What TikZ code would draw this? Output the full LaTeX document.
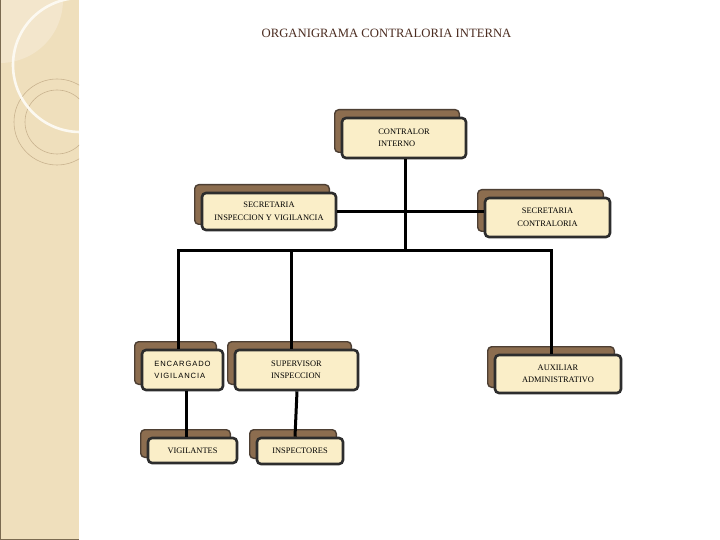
\documentclass[tikz,border=0pt]{standalone}
\usepackage{fontspec}
\setmainfont{Liberation Serif}
\newfontfamily\wideSans[LetterSpace=12]{Liberation Sans}
\usetikzlibrary{backgrounds}
\definecolor{sidebar}{HTML}{EFDFBC}
\definecolor{sidelight}{HTML}{F3E6CC}
\definecolor{sideline}{HTML}{C9B38F}
\definecolor{sideedge}{HTML}{7A6A50}
\definecolor{backfill}{HTML}{8C6D4F}
\definecolor{backedge}{HTML}{4D3F33}
\definecolor{frontfill}{HTML}{FAEEC8}
\definecolor{frontedge}{HTML}{2D2D2D}
\definecolor{titlecol}{HTML}{4B2C20}
\tikzset{
  front/.style={draw=frontedge, line width=2.6pt, fill=frontfill, rounded corners=4pt,
    inner sep=0pt, font=\fontsize{8.4}{12.5}\selectfont, align=center},
  backbox/.style={draw=backedge, line width=1.4pt, fill=backfill, rounded corners=4pt},
  conn/.style={draw=black, line width=3pt},
}
\newcommand{\backof}[1]{\draw[backbox] ([shift={(-6,-7)}]#1.south west) rectangle ([shift={(-8,-7)}]#1.north east);}
\begin{document}
\begin{tikzpicture}[x=1pt,y=-1pt]
\useasboundingbox (0,0) rectangle (720,540);

\node[font=\fontsize{12.7}{14}\selectfont, text=titlecol] (title) at (386.5,33) {ORGANIGRAMA CONTRALORIA INTERNA};

% front boxes
\node[front, minimum width=124pt, minimum height=40pt] (ci) at (404,138) {\begin{tabular}{@{}l@{}}CONTRALOR\\INTERNO\end{tabular}};
\node[front, minimum width=134pt, minimum height=37pt] (si) at (269,211.5) {SECRETARIA\\INSPECCION Y VIGILANCIA};
\node[front, minimum width=125pt, minimum height=39pt] (sc) at (547.5,217.5) {SECRETARIA\\CONTRALORIA};
\node[front, minimum width=81pt, minimum height=40pt] (ev) at (182.5,370) {\wideSans\fontsize{7.6}{12.5}\selectfont\begin{tabular}{@{}l@{}}ENCARGADO\\VIGILANCIA\end{tabular}};
\node[front, minimum width=123pt, minimum height=40pt] (sp) at (296.5,370) {\begin{tabular}{@{}l@{}}SUPERVISOR\\INSPECCION\end{tabular}};
\node[front, minimum width=126pt, minimum height=38pt] (aa) at (558,374) {AUXILIAR\\ADMINISTRATIVO};
\node[front, minimum width=89pt, minimum height=25pt] (vg) at (192.5,450.5) {VIGILANTES};
\node[front, minimum width=86pt, minimum height=26pt] (ip) at (300,451) {INSPECTORES};

\begin{scope}[on background layer]
  \fill[white] (0,0) rectangle (720,540);
  \begin{scope}
    \clip (0,0) rectangle (79,540);
    \fill[sidebar] (0,0) rectangle (79,540);
    \fill[sidelight] (0,0) circle[radius=63];
    \draw[sideline, line width=0.6pt] (57,122) circle[radius=43];
    \draw[sideline, line width=0.6pt] (57,122) circle[radius=32];
    \draw[white!80!sidebar, line width=2.6pt] (80,65) circle[radius=67];
  \end{scope}
  \draw[sideedge, line width=1.2pt] (0.6,0) -- (0.6,539.4) -- (79,539.4);
  \backof{ci}\backof{si}\backof{sc}\backof{ev}\backof{sp}\backof{aa}\backof{vg}\backof{ip}
\end{scope}

% connectors
\coordinate (mid) at (405,250);
\coordinate (bl) at (178,250);
\coordinate (bm) at (291,250);
\coordinate (br) at (551,250);
\draw[conn] ([xshift=1pt]ci.south) -- (mid);
\draw[conn] (si.east) -- (si.east -| sc.west);
\draw[conn, line join=miter] (bl |- ev.north) -- (bl) -- (br) -- (br |- aa.north);
\draw[conn] (bm) -- (bm |- sp.north);
\draw[conn] ([xshift=3.5pt]ev.south) -- ([xshift=-6.5pt]vg.north);
\draw[conn] ([xshift=0.5pt]sp.south) -- ([xshift=-5pt]ip.north);
\end{tikzpicture}
\end{document}
